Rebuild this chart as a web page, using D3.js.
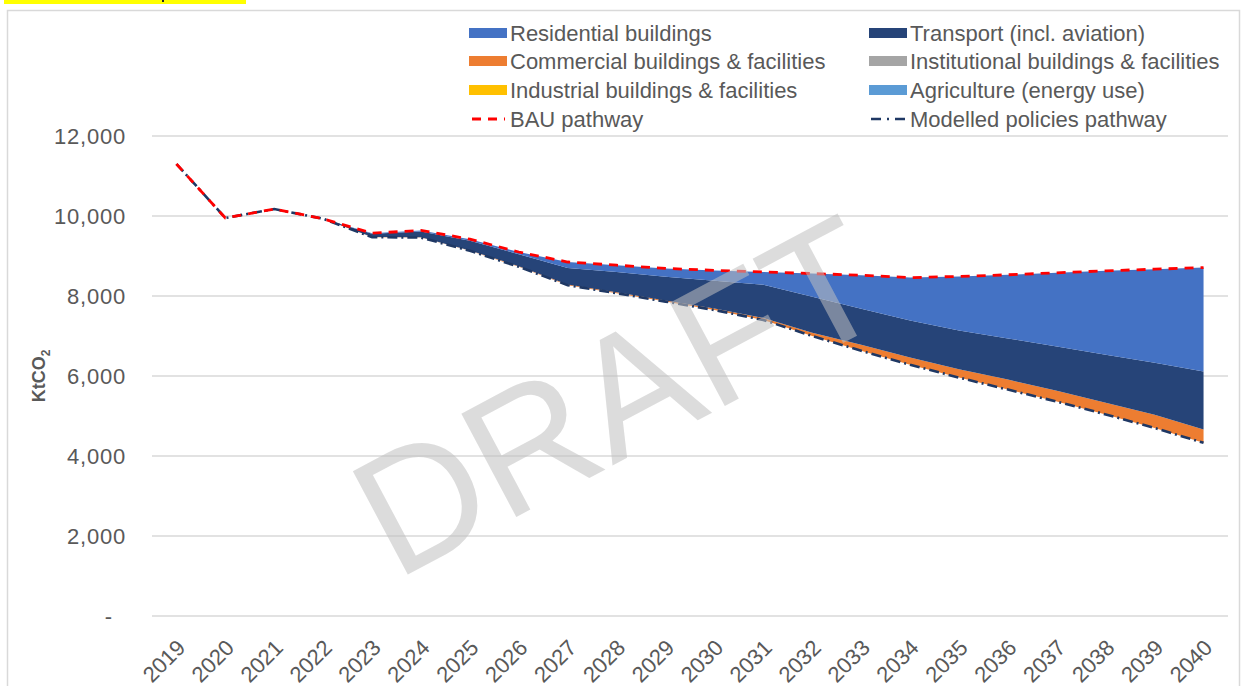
<!DOCTYPE html>
<html>
<head>
<meta charset="utf-8">
<script src="https://cdn.jsdelivr.net/npm/d3@7"></script>
<style>
  html, body { margin: 0; padding: 0; background: #fff; }
  svg { display: block; font-family: "Liberation Sans", Arial, sans-serif; }
</style>
</head>
<body>
<svg id="chart" width="1249" height="686"></svg>
<script>
// ---------------- DATA ----------------
const years = ["2019","2020","2021","2022","2023","2024","2025","2026","2027","2028","2029","2030",
               "2031","2032","2033","2034","2035","2036","2037","2038","2039","2040"];
const bauPathway =      [11300, 9950,10175, 9930, 9570, 9640, 9420, 9100, 8850, 8770, 8690, 8640,
                          8600, 8560, 8520, 8460, 8490, 8530, 8580, 8630, 8670, 8710];
const modelledPathway = [11300, 9950,10175, 9930, 9470, 9460, 9130, 8730, 8270, 8070, 7860, 7650,
                          7400, 7000, 6630, 6280, 5960, 5660, 5360, 5040, 4700, 4330];
const agriculture =     [0,0,0,0,0,0,0,0,0,0,0,0,0,0,0,0,0,0,0,0,0,0];
const industrial =      [0,0,0,0,0,0,0,0,0,0,0,0,0,0,0,0,0,0,0,0,0,0];
const institutional =   [0,0,0,0,0,0,0,0,0,0,0,0,0,0,0,0,0,0,0,0,0,0];
const commercial =      [0,0,0,0,  5, 10, 10, 15, 20, 25, 30, 40, 50, 80,150,180,210,250,270,290,330,330];
const transport =       [0,0,0,0, 80,140,240,300,410,505,590,690,830,900,900,930,965,1030,1105,1200,1300,1450];
const residential =     [0,0,0,0, 15, 30, 40, 55,150,170,210,260,320,580,840,1070,1355,1590,1845,2100,2340,2600];
const yTicks = [0, 2000, 4000, 6000, 8000, 10000, 12000];

const seriesNames = ["Residential buildings","Transport (incl. aviation)","Commercial buildings & facilities",
                     "Institutional buildings & facilities","Industrial buildings & facilities","Agriculture (energy use)"];
const seriesColors = ["#4472C4","#264478","#ED7D31","#A5A5A5","#FFC000","#5B9BD5"];
const seriesValues = [residential, transport, commercial, institutional, industrial, agriculture];

// ---------------- SETUP ----------------
const svg = d3.select("#chart");
const W = 1249, H = 686;
const plot = {left: 152, right: 1228, top: 136, bottom: 616};
const FONT = "Liberation Sans, Arial, sans-serif";

svg.append("rect").attr("width", W).attr("height", H).attr("fill", "#fff");
// highlight fragment at top-left
svg.append("rect").attr("x", 4).attr("y", 0).attr("width", 242).attr("height", 4).attr("fill", "#FFFF00");
svg.append("rect").attr("x", 162).attr("y", 0).attr("width", 2).attr("height", 2).attr("fill", "#222");
// chart frame
svg.append("rect").attr("x", 7.5).attr("y", 10.5).attr("width", 1232).attr("height", 700)
   .attr("fill", "none").attr("stroke", "#d9d9d9").attr("stroke-width", 1.5);

const x = d3.scaleBand().domain(years).range([plot.left, plot.right]).padding(0);
const xc = d => x(d) + x.bandwidth() / 2;
const y = d3.scaleLinear().domain([0, 12000]).range([plot.bottom, plot.top]);

// gridlines
svg.append("g").selectAll("line").data(yTicks).join("line")
  .attr("x1", plot.left).attr("x2", plot.right)
  .attr("y1", d => y(d)).attr("y2", d => y(d))
  .attr("stroke", "#d9d9d9").attr("stroke-width", 1.3);

// y axis labels
const yAxis = d3.axisLeft(y).tickValues(yTicks).tickSize(0).tickPadding(0)
  .tickFormat(d => d === 0 ? "-" : d3.format(",")(d));
const gy = svg.append("g").attr("transform", "translate(126,0)").call(yAxis);
gy.select(".domain").remove();
gy.selectAll("text").attr("font-size", 22).attr("fill", "#595959")
  .attr("font-family", FONT).attr("letter-spacing", 0.8)
  .attr("dx", d => d === 0 ? -13 : 0);

// y title
const yt = svg.append("text").attr("transform", "translate(45,376) rotate(-90)")
  .attr("text-anchor", "middle").attr("font-size", 18).attr("font-weight", "bold").attr("fill", "#595959");
yt.append("tspan").text("KtCO");
yt.append("tspan").attr("font-size", 12).attr("dy", 5).text("2");

// x axis labels
const xAxis = d3.axisBottom(x).tickSize(0).tickPadding(0);
const gx = svg.append("g").attr("transform", `translate(0,${plot.bottom})`).call(xAxis);
gx.select(".domain").remove();
gx.selectAll("text")
  .attr("font-size", 22).attr("fill", "#595959")
  .attr("font-family", FONT)
  .attr("text-anchor", "end")
  .attr("dy", null).attr("y", null)
  .attr("transform", "translate(6,29) rotate(-45)")
  .attr("dominant-baseline", "middle");

// ---------------- STACKED WEDGES ----------------
const stackOrder = [5, 4, 3, 2, 1, 0]; // bottom -> top: agriculture, industrial, institutional, commercial, transport, residential
const curve = d3.curveLinear;
const cum = modelledPathway.slice();
const layers = [];
stackOrder.forEach(si => {
  const lower = cum.slice();
  const upper = cum.map((v, i) => v + seriesValues[si][i]);
  upper.forEach((v, i) => cum[i] = v);
  layers.push({si, lower, upper});
});
const areaGen = d3.area()
  .x((d, i) => xc(years[i]))
  .y0(d => y(d[0])).y1(d => y(d[1])).curve(curve);
svg.append("g").selectAll("path").data(layers).join("path")
  .attr("d", L => areaGen(L.lower.map((v, i) => [v, L.upper[i]])))
  .attr("fill", L => seriesColors[L.si]);

// ---------------- LINES ----------------
const lineGen = d3.line().x((d, i) => xc(years[i])).y(d => y(d)).curve(curve);
svg.append("path").attr("d", lineGen(modelledPathway))
  .attr("fill", "none").attr("stroke", "#1F3864").attr("stroke-width", 2.6)
  .attr("stroke-dasharray", "10,4,2,4");
svg.append("path").attr("d", lineGen(bauPathway))
  .attr("fill", "none").attr("stroke", "#FF0000").attr("stroke-width", 2.8)
  .attr("stroke-dasharray", "9,7");

// ---------------- WATERMARK ----------------
svg.append("text").attr("transform", "translate(618,396) rotate(-28)")
  .attr("text-anchor", "middle").attr("dominant-baseline", "central")
  .attr("font-size", 170).attr("fill", "#bfbfbf").attr("fill-opacity", 0.55)
  .attr("font-family", FONT)
  .text("DRAFT");

// ---------------- LEGEND ----------------
const legendItems = [
  {name: seriesNames[0], color: seriesColors[0], type: "rect", col: 0, row: 0},
  {name: seriesNames[1], color: seriesColors[1], type: "rect", col: 1, row: 0},
  {name: seriesNames[2], color: seriesColors[2], type: "rect", col: 0, row: 1},
  {name: seriesNames[3], color: seriesColors[3], type: "rect", col: 1, row: 1},
  {name: seriesNames[4], color: seriesColors[4], type: "rect", col: 0, row: 2},
  {name: seriesNames[5], color: seriesColors[5], type: "rect", col: 1, row: 2},
  {name: "BAU pathway", color: "#FF0000", type: "bau", col: 0, row: 3},
  {name: "Modelled policies pathway", color: "#1F3864", type: "mod", col: 1, row: 3}
];
const colX = [469, 869], rowY = [33, 61, 90, 119];
const lg = svg.append("g").selectAll("g").data(legendItems).join("g")
  .attr("transform", d => `translate(${colX[d.col]},${rowY[d.row]})`);
lg.filter(d => d.type === "rect").append("rect")
  .attr("x", 0).attr("y", -5).attr("width", 38).attr("height", 10).attr("fill", d => d.color);
lg.filter(d => d.type === "bau").append("line")
  .attr("x1", 3).attr("x2", 36).attr("y1", 0).attr("y2", 0)
  .attr("stroke", d => d.color).attr("stroke-width", 2.8).attr("stroke-dasharray", "9,7");
lg.filter(d => d.type === "mod").append("line")
  .attr("x1", 2).attr("x2", 38).attr("y1", 0).attr("y2", 0)
  .attr("stroke", d => d.color).attr("stroke-width", 2.6).attr("stroke-dasharray", "10,6,2,6");
lg.append("text").attr("x", 41).attr("y", 0).attr("dominant-baseline", "central")
  .attr("font-size", 22).attr("fill", "#595959").attr("font-family", FONT).text(d => d.name);
</script>
</body>
</html>
